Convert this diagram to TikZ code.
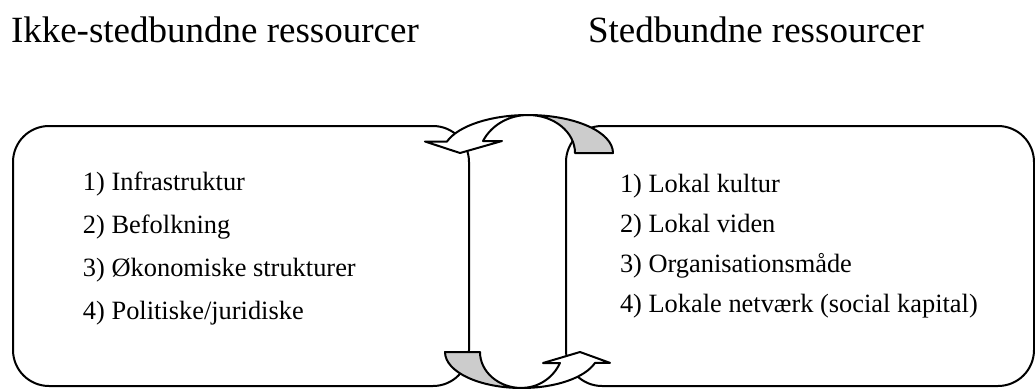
\documentclass[tikz,border=0pt]{standalone}
\usepackage{fontspec}
\setmainfont{Liberation Serif}
\usepackage{tikz}
\usepackage{xcolor}

\begin{document}
\begin{tikzpicture}[x=0.5pt,y=0.5pt,line width=1pt,
  resbox/.style={draw,rounded corners=18pt,minimum width=228pt,minimum height=130pt},
  heading/.style={anchor=base west,inner sep=0,font=\fontsize{18.5}{22}\selectfont},
  item/.style={anchor=base west,inner sep=0,font=\fontsize{13.2}{16}\selectfont},
  front/.style={draw,fill=white,line join=round},
  back/.style={draw,fill=backgray,line join=round}]
\definecolor{backgray}{HTML}{CCCCCC}
\useasboundingbox (0,0) rectangle (1035,388);
\node [heading] (ikke) at (10,346) {Ikke-stedbundne ressourcer};
\node [heading] (sted) at (587,346) {Stedbundne ressourcer};
\node [resbox] (venstre) at (241,132) {};
\node [resbox,minimum width=234pt] (hoejre) at (800,132) {};
  \foreach \txt/\pos in {1) Infrastruktur/1,2) Befolkning/2,3) Økonomiske strukturer/3,{4) Politiske/juridiske}/4}
  {  \node [item] (v\pos) at (82,241-43*\pos) {\txt};}
  \foreach \txt/\pos in {1) Lokal kultur/1,2) Lokal viden/2,3) Organisationsmåde/3,4) Lokale netværk (social kapital)/4}
  {  \node [item] (h\pos) at (619,236-40*\pos) {\txt};}
% pil oeverst, mod venstre
\draw [back] (613,235) arc[start angle=0,end angle=90,x radius=85,y radius=38]
  arc[start angle=90,end angle=0,x radius=47,y radius=38] -- cycle;
\draw [front] (528,273) arc[start angle=90,end angle=162.4,x radius=85,y radius=38]
  -- ++(-22,0) -- (460,235) -- (502,247) -- (483,247)
  arc[start angle=154.2,end angle=90,x radius=50,y radius=46] -- cycle;
% pil nederst, mod hoejre
\draw [back] (445,36) arc[start angle=180,end angle=270,x radius=76.8,y radius=36]
  arc[start angle=270,end angle=180,x radius=41.8,y radius=36] -- cycle;
\draw [front] (521.8,0) arc[start angle=270,end angle=342.4,x radius=76.8,y radius=36]
  -- ++(15,0) -- (580,36) -- (543,25) -- (560,25)
  arc[start angle=334.2,end angle=270,x radius=42.4,y radius=44] -- cycle;
\end{tikzpicture}
\end{document}
